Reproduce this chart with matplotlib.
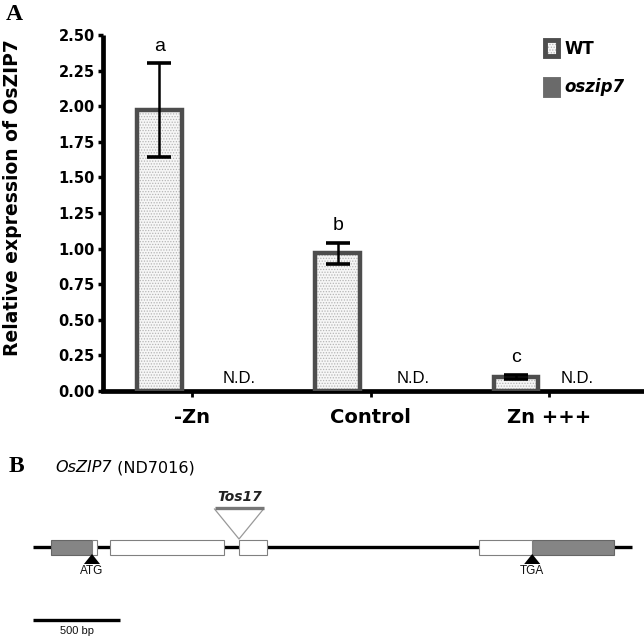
import matplotlib
matplotlib.use("Agg")
import matplotlib.pyplot as plt
from matplotlib.patches import Patch, Rectangle
from matplotlib.legend_handler import HandlerTuple

# ---------------- data: panel A ----------------
conditions = ["-Zn", "Control", "Zn +++"]
wt_mean = [1.97, 0.97, 0.10]
wt_err_low = [0.33, 0.08, 0.015]
wt_err_high = [0.33, 0.07, 0.015]
mutant_mean = [0.0, 0.0, 0.0]           # not detected
sig_letters = ["a", "b", "c"]
mutant_note = ["N.D.", "N.D.", "N.D."]
y_ticks = [0.00, 0.25, 0.50, 0.75, 1.00, 1.25, 1.50, 1.75, 2.00, 2.25, 2.50]
series_names = ["WT", "oszip7"]

# ---------------- data: panel B (gene model, bp) ----------------
gene_length = 3445
utr_segments = [(104, 339), (2869, 3341)]          # grey boxes
cds_segments = [(339, 368), (443, 1098), (1184, 1346), (2565, 2869)]  # white boxes
atg_pos = 339
tga_pos = 2869
tos17_pos = 1184
scale_bar_bp = 500

plt.rcParams["hatch.linewidth"] = 0.6

fig = plt.figure(figsize=(6.44, 6.43), dpi=100)
W, H = 644, 643

# ---------------- panel A ----------------
ax = fig.add_axes([103 / W, 1 - 391 / H, (642 - 103) / W, (391 - 35) / H])
x = list(range(len(conditions)))
off = 0.185
bw = 0.25
xw = [i - off for i in x]
xm = [i + off for i in x]

ax.bar(xw, wt_mean, bw, color="#f6f6f6", edgecolor="#b5b5b5", linewidth=0,
       hatch="......", zorder=2)
ax.bar(xw, wt_mean, bw, fill=False, edgecolor="#4d4d4d", linewidth=3.2, zorder=3)
ax.bar(xm, mutant_mean, bw, color="#6a6a6a", linewidth=0, zorder=2)
ax.errorbar(xw, wt_mean, yerr=[wt_err_low, wt_err_high], fmt="none",
            ecolor="black", elinewidth=1.8, capsize=8.5, capthick=2.6, zorder=4)

for i in x:
    ax.text(xw[i], wt_mean[i] + wt_err_high[i] + 0.12, sig_letters[i],
            ha="center", va="center", fontsize=14, family="Liberation Sans")
nd_offsets = [0.26, 0.24, 0.155]
for i in x:
    ax.text(i + nd_offsets[i], 0.09, mutant_note[i], ha="center", va="center",
            fontsize=12, family="Liberation Sans")

ax.set_xlim(-0.5, 2.52)
ax.set_ylim(0, 2.5)
ax.set_yticks(y_ticks)
ax.set_yticklabels([f"{v:.2f}" for v in y_ticks], fontsize=10.5, fontweight="bold")
ax.set_xticks(x)
ax.set_xticklabels(conditions, fontsize=14, fontweight="bold")
ax.tick_params(axis="y", length=3.5, width=2.5, pad=2.5)
ax.tick_params(axis="x", length=4, width=2, pad=8)
for s in ["top", "right"]:
    ax.spines[s].set_visible(False)
for s in ["left", "bottom"]:
    ax.spines[s].set_linewidth(3.4)
ax.spines["left"].set_capstyle("butt")

fig.text(13 / W, 1 - 198 / H, "Relative expression of OsZIP7", rotation=90,
         ha="center", va="center", fontsize=13.5, fontweight="bold")

# legend
h_wt = (Patch(facecolor="#f6f6f6", edgecolor="#b5b5b5", linewidth=0, hatch="......"),
        Patch(fill=False, edgecolor="#4d4d4d", linewidth=3.5))
h_mu = Patch(facecolor="#6a6a6a", edgecolor="#6a6a6a", linewidth=3.5)
leg = ax.legend([h_wt, h_mu], series_names, handler_map={tuple: HandlerTuple(ndivide=1, pad=0)},
                loc="upper left", bbox_to_anchor=(544.5 / W, 1 - 39.5 / H),
                bbox_transform=fig.transFigure, frameon=False, borderpad=0,
                borderaxespad=0, handlelength=0.81, handleheight=1.14,
                labelspacing=1.26, handletextpad=0.4, prop={"size": 12, "weight": "bold"})
leg.get_texts()[1].set_style("italic")

fig.text(14 / W, 1 - 15 / H, "A", ha="center", va="center", fontsize=17,
         fontweight="bold", family="Liberation Serif")

# ---------------- panel B ----------------
bp_per_px = 500 / 87.0
ax2 = fig.add_axes([0, 0, 1, 1], zorder=-1)
ax2.set_xlim(-33 * bp_per_px, (W - 33) * bp_per_px)
ax2.set_ylim(H, 0)
ax2.axis("off")

line_y = 547
box_top, box_h = 540, 15
ax2.plot([0, gene_length], [line_y, line_y], color="black", lw=2.4,
         solid_capstyle="butt", zorder=1)
for a, b in utr_segments:
    ax2.add_patch(Rectangle((a, box_top), b - a, box_h, facecolor="#858585",
                            edgecolor="#666666", lw=0.8, zorder=2))
for a, b in cds_segments:
    ax2.add_patch(Rectangle((a, box_top), b - a, box_h, facecolor="white",
                            edgecolor="#808080", lw=0.8, zorder=2))
for pos, lab in [(atg_pos, "ATG"), (tga_pos, "TGA")]:
    ax2.fill([pos - 8 * bp_per_px, pos, pos + 8 * bp_per_px], [564, 554, 564],
             color="black", zorder=3, lw=0)
    ax2.text(pos, 571, lab, ha="center", va="center", fontsize=8.5,
             family="Liberation Sans", color="#111111")

half = 24.5 * bp_per_px
ax2.plot([tos17_pos - half, tos17_pos, tos17_pos + half], [509, box_top - 1, 509],
         color="#999999", lw=0.9, zorder=3)
ax2.plot([tos17_pos - half, tos17_pos + half], [507.5, 507.5], color="#777777",
         lw=2.4, solid_capstyle="butt", zorder=4)
ax2.text(tos17_pos + 1 * bp_per_px, 497, "Tos17", ha="center", va="center",
         fontsize=10, fontweight="bold", style="italic", color="#222222")

ax2.plot([0, scale_bar_bp], [620, 620], color="black", lw=2.4, solid_capstyle="butt")
ax2.text(scale_bar_bp / 2, 631, "500 bp", ha="center", va="center", fontsize=8,
         family="Liberation Sans", color="#111111")

fig.text(16 / W, 1 - 467 / H, "B", ha="center", va="center", fontsize=17,
         fontweight="bold", family="Liberation Serif")
t1 = fig.text(55 / W, 1 - 468 / H, "OsZIP7", ha="left", va="center", fontsize=11.5,
              style="italic")
ax2.annotate(" (ND7016)", xy=(1, 0), xycoords=t1, ha="left", va="bottom", fontsize=11.5)

fig.savefig("out.png", dpi=100)
